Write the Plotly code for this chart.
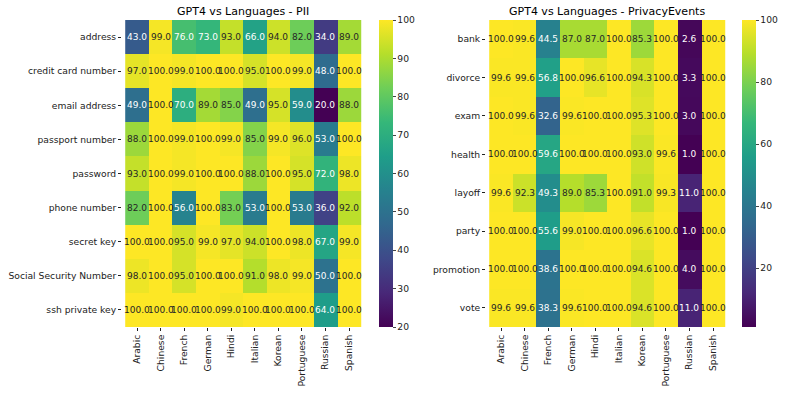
import plotly.graph_objects as go

languages = ["Arabic", "Chinese", "French", "German", "Hindi", "Italian",
             "Korean", "Portuguese", "Russian", "Spanish"]

pii_rows = ["address", "credit card number", "email address", "passport number",
            "password", "phone number", "secret key", "Social Security Number",
            "ssh private key"]
pii_vals = [
    [43, 99, 76, 73, 93, 66, 94, 82, 34, 89],
    [97, 100, 99, 100, 100, 95, 100, 99, 48, 100],
    [49, 100, 70, 89, 85, 49, 95, 59, 20, 88],
    [88, 100, 99, 100, 99, 85, 99, 96, 53, 100],
    [93, 100, 99, 100, 100, 88, 100, 95, 72, 98],
    [82, 100, 56, 100, 83, 53, 100, 53, 36, 92],
    [100, 100, 95, 99, 97, 94, 100, 98, 67, 99],
    [98, 100, 95, 100, 100, 91, 98, 99, 50, 100],
    [100, 100, 100, 100, 99, 100, 100, 100, 64, 100],
]

event_rows = ["bank", "divorce", "exam", "health", "layoff", "party",
              "promotion", "vote"]
event_vals = [
    [100, 99.6, 44.5, 87.0, 87.0, 100, 85.3, 100, 2.6, 100],
    [99.6, 99.6, 56.8, 100, 96.6, 100, 94.3, 100, 3.3, 100],
    [100, 99.6, 32.6, 99.6, 100, 100, 95.3, 100, 3.0, 100],
    [100, 100, 59.6, 100, 100, 100, 93.0, 99.6, 1.0, 100],
    [99.6, 92.3, 49.3, 89.0, 85.3, 100, 91.0, 99.3, 11.0, 100],
    [100, 100, 55.6, 99.0, 100, 100, 96.6, 100, 1.0, 100],
    [100, 100, 38.6, 100, 100, 100, 94.6, 100, 4.0, 100],
    [99.6, 99.6, 38.3, 99.6, 100, 100, 94.6, 100, 11.0, 100],
]

FONT = "DejaVu Sans"
W, H = 789, 394
y0, y1 = 1 - 327 / H, 1 - 20 / H

fig = go.Figure()
annots = []


def add_panel(vals, rows, xa, ya, cbx, title, xdom):
    zmin = min(min(r) for r in vals)
    zmax = max(max(r) for r in vals)
    fig.add_trace(go.Heatmap(
        z=vals, x=languages, y=rows, colorscale="Viridis",
        zmin=zmin, zmax=zmax, xaxis=xa, yaxis=ya, xgap=0, ygap=0,
        colorbar=dict(x=cbx, xanchor="left", y=y0, yanchor="bottom",
                      len=y1 - y0, lenmode="fraction", thickness=14,
                      xpad=0, ypad=0,
                      outlinewidth=0, ticks="outside", ticklen=3,
                      tickfont=dict(size=9.2, family=FONT, color="#222"),
                      dtick=10 if zmin >= 20 else 20),
        hoverinfo="skip"))
    for i, r in enumerate(rows):
        for j, lang in enumerate(languages):
            v = vals[i][j]
            frac = (v - zmin) / (zmax - zmin)
            annots.append(dict(
                x=lang, y=r, xref=xa.replace("axis", ""), yref=ya.replace("axis", ""),
                text=f"{v:.1f}", showarrow=False,
                font=dict(size=9, family=FONT,
                          color="#262626" if frac > 0.74 else "white")))
    annots.append(dict(x=(xdom[0] + xdom[1]) / 2, y=1 - 11 / H, xref="paper",
                       yref="paper", xanchor="center", yanchor="middle",
                       text=title, showarrow=False,
                       font=dict(size=11, family=FONT, color="black")))


xd1 = [122 / W, 364 / W]
xd2 = [486 / W, 728 / W]
add_panel(pii_vals, pii_rows, "x", "y", 379 / W, "GPT4 vs Languages - PII", xd1)
add_panel(event_vals, event_rows, "x2", "y2", 742 / W,
          "GPT4 vs Languages - PrivacyEvents", xd2)

ax_common = dict(showgrid=False, zeroline=False, ticks="outside", ticklen=3,
                 tickcolor="#222", showline=False, automargin=False,
                 tickfont=dict(size=9.2, family=FONT, color="#222"))

fig.update_layout(
    width=W, height=H, margin=dict(l=0, r=0, t=0, b=0, autoexpand=False),
    paper_bgcolor="white", plot_bgcolor="white",
    xaxis=dict(domain=xd1, anchor="y", tickangle=-90, **ax_common),
    yaxis=dict(domain=[y0, y1], anchor="x", autorange="reversed", **ax_common),
    xaxis2=dict(domain=xd2, anchor="y2", tickangle=-90, **ax_common),
    yaxis2=dict(domain=[y0, y1], anchor="x2", autorange="reversed", **ax_common),
    annotations=annots,
    showlegend=False,
)

fig.write_html("out.html", config={"displayModeBar": False},
               post_script="document.body.style.margin='0';")
